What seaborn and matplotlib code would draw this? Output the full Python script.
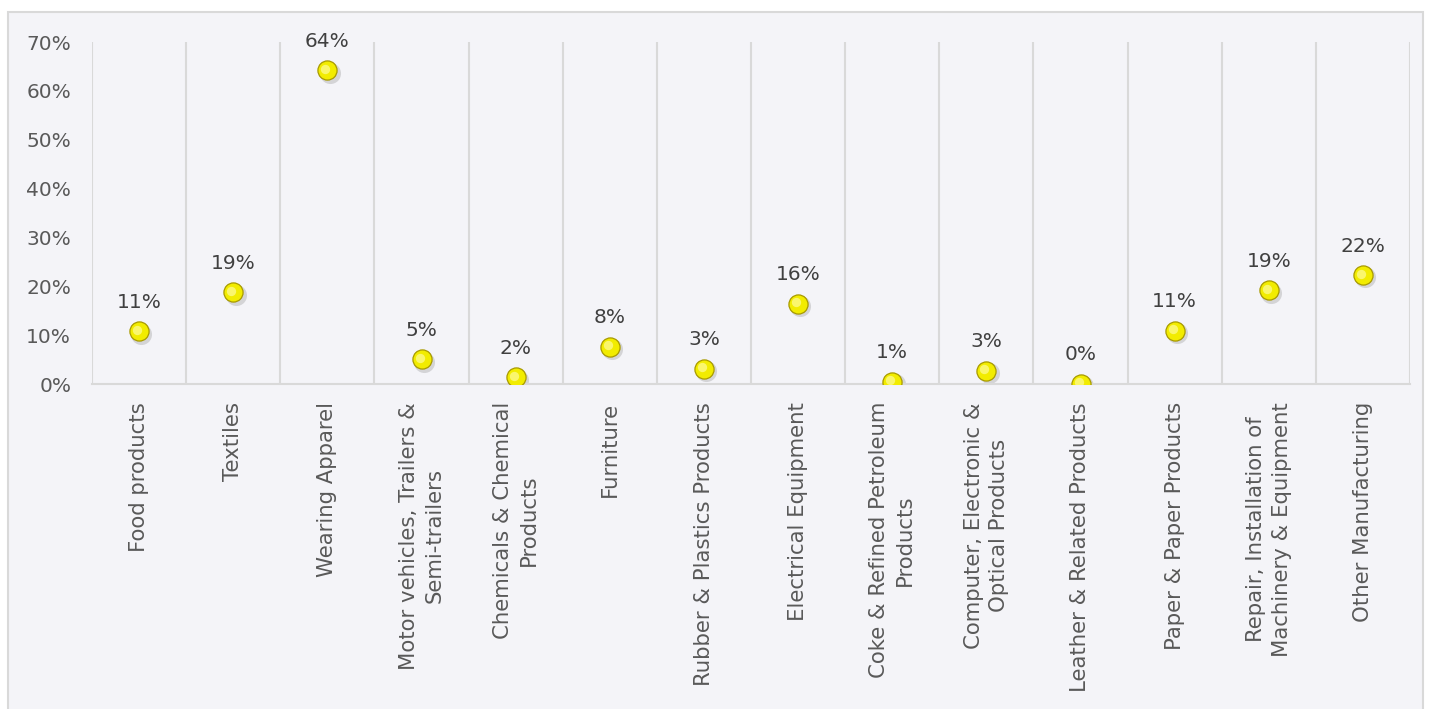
import matplotlib.pyplot as plt
import matplotlib.patches as mpatches
import seaborn as sns
import numpy as np
import pandas as pd

sns.set_theme(style='white')
plt.rcParams['font.family'] = ['DejaVu Sans']

# data
categories = [
    'Food products',
    'Textiles',
    'Wearing Apparel',
    'Motor vehicles, Trailers &\nSemi-trailers',
    'Chemicals & Chemical\nProducts',
    'Furniture',
    'Rubber & Plastics Products',
    'Electrical Equipment',
    'Coke & Refined Petroleum\nProducts',
    'Computer, Electronic &\nOptical Products',
    'Leather & Related Products',
    'Paper & Paper Products',
    'Repair, Installation of\nMachinery & Equipment',
    'Other Manufacturing',
]
shares = [0.108, 0.188, 0.642, 0.051, 0.014, 0.076, 0.031, 0.164,
          0.005, 0.027, 0.001, 0.109, 0.192, 0.223]
share_labels = ['11%', '19%', '64%', '5%', '2%', '8%', '3%', '16%',
                '1%', '3%', '0%', '11%', '19%', '22%']
y_ticks = [0.0, 0.1, 0.2, 0.3, 0.4, 0.5, 0.6, 0.7]

df = pd.DataFrame({'Category': categories, 'Share': shares})

bg = '#f4f4f8'
grid_col = '#d9d9d9'
text_col = '#595959'

fig = plt.figure(figsize=(14.33, 7.09), dpi=100, facecolor='white')
# chart area frame
fig.patches.append(mpatches.Rectangle((8 / 1433, -0.01), 1415 / 1433, 1.01 - 12 / 709,
                                      transform=fig.transFigure, facecolor=bg,
                                      edgecolor=grid_col, linewidth=1.5, zorder=-10))

ax = fig.add_axes([92 / 1433, 1 - 384 / 709, (1410 - 92) / 1433, (384 - 42) / 709])
ax.set_facecolor(bg)

# soft shadow under markers
x_pos = np.arange(len(categories))
ax.scatter(x_pos + 0.025, df['Share'] - 0.005, s=230, color='#8a8a8a', alpha=0.3,
           linewidths=0, zorder=2)
sns.scatterplot(data=df, x='Category', y='Share', ax=ax, s=190, color='#f2ec00',
                edgecolor='#a89a00', linewidth=0.9, zorder=3, legend=False)
# faint highlight for the ball look
ax.scatter(x_pos - 0.02, df['Share'] + 0.003, s=45, color='#fbf87a', alpha=0.9,
           linewidths=0, zorder=4)

for i, (v, lab) in enumerate(zip(shares, share_labels)):
    ax.annotate(lab, (i, v), xytext=(0, 14), textcoords='offset points',
                ha='center', va='bottom', fontsize=14.5, color='#404040')

ax.set_xlim(-0.5, len(categories) - 0.5)
ax.set_ylim(0, 0.7)
ax.set_yticks(y_ticks)
ax.set_yticklabels([f'{int(round(t * 100))}%' for t in y_ticks], fontsize=14.5)
ax.set_xticks(x_pos)
ax.set_xticklabels(categories, rotation=90, ha='center', va='top', fontsize=15.3,
                   multialignment='center', linespacing=1.35)
ax.set_xticks(np.arange(len(categories) + 1) - 0.5, minor=True)
ax.grid(which='minor', axis='x', color=grid_col, linewidth=1.5)
ax.grid(which='major', visible=False)
ax.tick_params(axis='both', which='both', length=0, colors=text_col)
ax.tick_params(axis='y', pad=15)
ax.tick_params(axis='x', pad=13)
ax.set_xlabel('')
ax.set_ylabel('')

for side in ['top', 'right', 'left']:
    ax.spines[side].set_visible(False)
ax.spines['bottom'].set_color(grid_col)
ax.spines['bottom'].set_linewidth(1.5)

fig.savefig('out.png', dpi=100, facecolor='white')
